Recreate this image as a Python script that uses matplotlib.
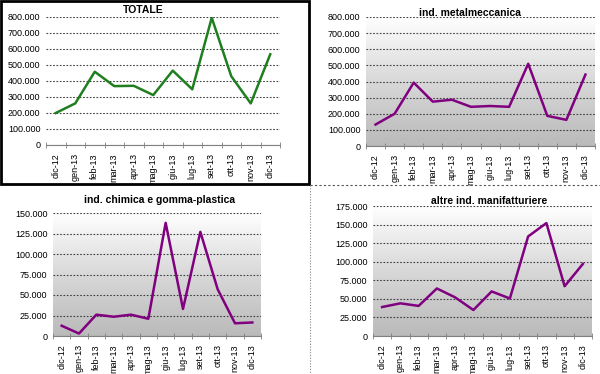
import numpy as np
import matplotlib
matplotlib.use("Agg")
import matplotlib.pyplot as plt
from matplotlib.lines import Line2D
from matplotlib.patches import Rectangle
from matplotlib.ticker import FuncFormatter, MultipleLocator

plt.rcParams["font.family"] = ["Liberation Sans", "DejaVu Sans"]

MONTHS = ["dic-12", "gen-13", "feb-13", "mar-13", "apr-13", "mag-13",
          "giu-13", "lug-13", "set-13", "ott-13", "nov-13", "dic-13"]

totale = [200000, 260000, 458000, 368000, 370000, 312000,
          465000, 348000, 795000, 430000, 260000, 567000]
metalmeccanica = [133000, 200000, 393000, 275000, 287000, 243000,
                  248000, 243000, 510000, 187000, 162000, 443000]
chimica = [12500, 3000, 26000, 23500, 26000, 21000,
           138000, 33000, 127000, 57000, 15500, 16500]
altre = [39000, 44000, 40500, 64000, 52000, 35000,
         60000, 50500, 134000, 152000, 67000, 97000]

GREEN = "#1f7f1f"
PURPLE = "#800080"
W, H = 600, 374


def thousands(v, pos):
    return "{:,.0f}".format(v).replace(",", ".")


def panel(fig, box, title, values, ymax, step, color, gradient, title_xy):
    x0, y0, x1, y1 = box  # pixels, y from top
    ax = fig.add_axes([x0 / W, 1 - y1 / H, (x1 - x0) / W, (y1 - y0) / H])
    if gradient:
        grad = np.linspace(1.0, 0.0, 256).reshape(-1, 1)
        ax.imshow(grad, extent=[0, 1, 0, 1], transform=ax.transAxes,
                  cmap=matplotlib.colors.LinearSegmentedColormap.from_list(
                      "g", ["#bababa", "#d8d8d8", "#ffffff"]),
                  aspect="auto", zorder=0)
    ax.set_facecolor("white")
    xs = np.arange(len(MONTHS))
    ax.plot(xs, values, color=color, lw=1.8, zorder=3)
    ax.set_xlim(-0.5, len(MONTHS) - 0.5)
    ax.set_ylim(0, ymax)
    ax.yaxis.set_major_locator(MultipleLocator(step))
    ax.yaxis.set_major_formatter(FuncFormatter(thousands))
    ax.grid(axis="y", color="#404040", linestyle=(0, (1.5, 1.5)), lw=0.8)
    ax.set_axisbelow(True)
    for s in ("top", "right", "left"):
        ax.spines[s].set_visible(False)
    ax.spines["bottom"].set_color("#808080")
    ax.set_xticks(xs)
    ax.set_xticklabels(MONTHS, rotation=90)
    ax.set_xticks(np.arange(-0.5, len(MONTHS)), minor=True)
    ax.tick_params(axis="x", which="major", length=0, pad=6, labelsize=6.5)
    ax.tick_params(axis="x", which="minor", length=4, color="#808080", direction="inout")
    ax.tick_params(axis="y", length=0, labelsize=6.5, pad=4)
    fig.text(title_xy[0] / W, 1 - title_xy[1] / H, title, ha="center", va="center",
             fontsize=7.5, fontweight="bold")
    return ax


fig = plt.figure(figsize=(6, 3.74), dpi=100)

panel(fig, (46, 17, 280, 145), "TOTALE", totale, 800000, 100000, GREEN, False, (143, 10))
panel(fig, (366, 17, 595, 146), "ind. metalmeccanica", metalmeccanica, 800000, 100000,
      PURPLE, True, (470, 13))
panel(fig, (53, 213, 261, 336), "ind. chimica e gomma-plastica", chimica, 150000, 25000,
      PURPLE, True, (160, 200))
panel(fig, (373, 206, 592, 336), "altre ind. manifatturiere", altre, 175000, 25000,
      PURPLE, True, (489, 201))

# frame around the first chart and dotted separators
fig.add_artist(Rectangle((1 / W, 1 - 184 / H), 308 / W, 183 / H, fill=False,
                         edgecolor="black", lw=2, transform=fig.transFigure))
fig.add_artist(Line2D([310 / W, 1], [1 - 185 / H] * 2, color="#555555", lw=0.8,
                      linestyle=(0, (2, 2)), transform=fig.transFigure))
fig.add_artist(Line2D([310 / W] * 2, [1 - 185 / H, 0], color="#888888", lw=0.8,
                      linestyle=(0, (1, 1.5)), transform=fig.transFigure))

fig.savefig("out.png", dpi=100)
